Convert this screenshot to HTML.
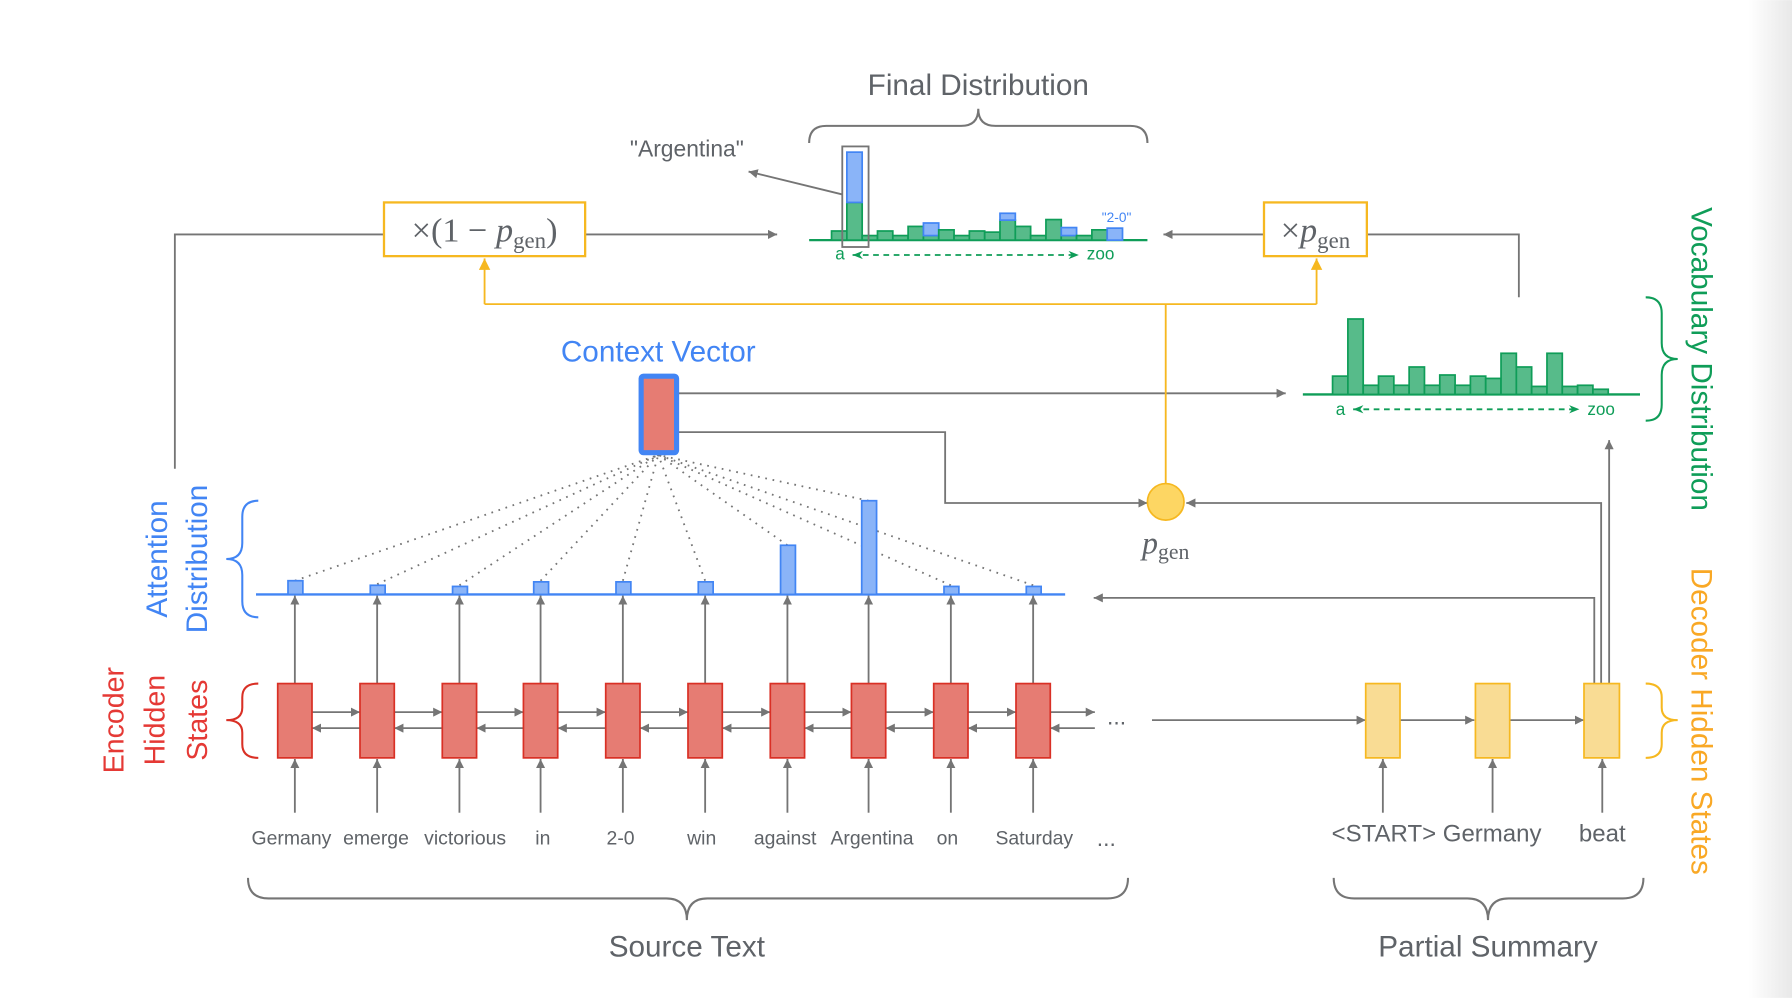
<!DOCTYPE html>
<html><head><meta charset="utf-8"><style>
html,body{margin:0;padding:0;background:#fff;}
svg{display:block;}
text{font-family:"Liberation Sans",sans-serif;}
.w{font-size:17px;fill:#5f6368;text-anchor:middle;}
.m{font-family:"Liberation Serif",serif;fill:#5f6368;}
.g{fill:#57bb8a;stroke:#0f9d58;stroke-width:1.5;}
.b{fill:#8ab4f8;stroke:#4285f4;stroke-width:1.5;}
.ln{stroke:#757575;stroke-width:1.6;fill:none;}
.dt{stroke:#757575;stroke-width:1.6;stroke-dasharray:1.5 5;fill:none;}
.enc{fill:#e67c73;stroke:#d93025;stroke-width:1.5;}
.dec{fill:#f9dc94;stroke:#f6b820;stroke-width:1.5;}
</style></head><body>
<svg width="1792" height="998" viewBox="0 0 1568 873" xmlns="http://www.w3.org/2000/svg">
<defs>
<marker id="a" viewBox="0 0 10 10" refX="10" refY="5" markerWidth="8" markerHeight="8" orient="auto-start-reverse" markerUnits="userSpaceOnUse"><path d="M0,0 L10,5 L0,10z" fill="#757575"/></marker>
<marker id="ay" viewBox="0 0 10 10" refX="10" refY="5" markerWidth="10" markerHeight="10" orient="auto" markerUnits="userSpaceOnUse"><path d="M0,0 L10,5 L0,10z" fill="#f6b820"/></marker>
<marker id="ag" viewBox="0 0 10 10" refX="10" refY="5" markerWidth="9" markerHeight="9" orient="auto-start-reverse" markerUnits="userSpaceOnUse"><path d="M0,1 L10,5 L0,9 L3,5z" fill="#0f9d58"/></marker>
<linearGradient id="edge" x1="0" x2="1"><stop offset="0" stop-color="#fff"/><stop offset="1" stop-color="#e8e8e8"/></linearGradient>
</defs>
<rect x="1530" y="0" width="38" height="873" fill="url(#edge)"/>

<!-- labels -->
<text x="856" y="83" font-size="26" fill="#5f6368" text-anchor="middle">Final Distribution</text>
<text x="601" y="137" font-size="20" fill="#5f6368" text-anchor="middle">"Argentina"</text>
<text x="576" y="316" font-size="26" fill="#4285f4" text-anchor="middle">Context Vector</text>
<text x="601" y="837" font-size="26" fill="#5f6368" text-anchor="middle">Source Text</text>
<text x="1302" y="837" font-size="26" fill="#5f6368" text-anchor="middle">Partial Summary</text>

<!-- braces -->
<g fill="none" stroke-width="1.8">
<path stroke="#757575" d="M217,768 Q217,786 235,786 L583,786 Q601,786 601,805 Q601,786 619,786 L969,786 Q987,786 987,768"/>
<path stroke="#757575" d="M1167,768 Q1167,786 1185,786 L1284,786 Q1302,786 1302,805 Q1302,786 1320,786 L1420,786 Q1438,786 1438,768"/>
<path stroke="#757575" d="M708,125 Q708,110 723,110 L841,110 Q856,110 856,95 Q856,110 871,110 L989,110 Q1004,110 1004,125"/>
<path stroke="#4285f4" d="M226,438 Q212,438 212,452 L212,475 Q212,489 198,489 Q212,489 212,503 L212,526 Q212,540 226,540"/>
<path stroke="#d93025" d="M226,598 Q212,598 212,610 L212,619 Q212,630 198,630 Q212,630 212,641 L212,651 Q212,663 226,663"/>
<path stroke="#0f9d58" d="M1440,260 Q1454,260 1454,274 L1454,300 Q1454,314 1468,314 Q1454,314 1454,328 L1454,354 Q1454,368 1440,368"/>
<path stroke="#f6b820" d="M1440,598 Q1454,598 1454,610 L1454,619 Q1454,630 1468,630 Q1454,630 1454,641 L1454,651 Q1454,663 1440,663"/>
</g>

<!-- rotated labels -->
<text transform="translate(108,630) rotate(-90)" font-size="25" fill="#e53935" text-anchor="middle">Encoder</text>
<text transform="translate(144,630) rotate(-90)" font-size="25" fill="#e53935" text-anchor="middle">Hidden</text>
<text transform="translate(181,630) rotate(-90)" font-size="25" fill="#e53935" text-anchor="middle">States</text>
<text transform="translate(146,489) rotate(-90)" font-size="26" fill="#4285f4" text-anchor="middle">Attention</text>
<text transform="translate(181,489) rotate(-90)" font-size="26" fill="#4285f4" text-anchor="middle">Distribution</text>
<text transform="translate(1480,314) rotate(90)" font-size="26" fill="#0f9d58" text-anchor="middle">Vocabulary Distribution</text>
<text transform="translate(1480,631) rotate(90)" font-size="26" fill="#f9a825" text-anchor="middle">Decoder Hidden States</text>

<!-- gray connectors -->
<path class="ln" d="M153,410 L153,205 L336,205"/>
<path class="ln" d="M512,205 L680,205" marker-end="url(#a)"/>
<path class="ln" d="M1106,205 L1018,205" marker-end="url(#a)"/>
<path class="ln" d="M1196,205 L1329,205 L1329,260"/>
<path class="ln" d="M737,170 L655,150" marker-end="url(#a)"/>
<path class="ln" d="M594,344 L1125,344" marker-end="url(#a)"/>
<path class="ln" d="M594,378 L827,378 L827,440 L1004,440" marker-end="url(#a)"/>
<path class="ln" d="M1395,598 L1395,523 L957,523" marker-end="url(#a)"/>
<path class="ln" d="M1401,598 L1401,440 L1038,440" marker-end="url(#a)"/>
<path class="ln" d="M1408,598 L1408,385" marker-end="url(#a)"/>

<!-- orange -->
<g stroke="#f6b820" stroke-width="1.6" fill="none">
<path d="M1020,423 L1020,266"/>
<path d="M424,266 L1152,266"/>
<path d="M424,266 L424,226" marker-end="url(#ay)"/>
<path d="M1152,266 L1152,226" marker-end="url(#ay)"/>
</g>
<rect x="336" y="177" width="176" height="47" fill="#fff" stroke="#f6b820" stroke-width="2"/>
<text x="424" y="211" class="m" font-size="30" text-anchor="middle">×(1 − <tspan font-style="italic">p</tspan><tspan font-size="20" dy="6">gen</tspan><tspan dy="-6">)</tspan></text>
<rect x="1106" y="177" width="90" height="47" fill="#fff" stroke="#f6b820" stroke-width="2"/>
<text x="1151" y="211" class="m" font-size="30" text-anchor="middle">×<tspan font-style="italic">p</tspan><tspan font-size="20" dy="6">gen</tspan></text>
<circle cx="1020" cy="439" r="16" fill="#fdd663" stroke="#f6b820" stroke-width="1.5"/>
<text x="1020" y="484" class="m" font-size="28" text-anchor="middle"><tspan font-style="italic">p</tspan><tspan font-size="19" dy="5">gen</tspan></text>

<!-- final distribution -->
<line x1="708" y1="210" x2="1004" y2="210" stroke="#0f9d58" stroke-width="2"/>
<g>
<rect class="g" x="727.6" y="202" width="13.4" height="8"/>
<rect class="g" x="741" y="177" width="13.4" height="33"/>
<rect class="b" x="741" y="133" width="13.4" height="44"/>
<rect class="g" x="754.4" y="206" width="13.4" height="4"/>
<rect class="g" x="767.8" y="202" width="13.4" height="8"/>
<rect class="g" x="781.2" y="206" width="13.4" height="4"/>
<rect class="g" x="794.6" y="198" width="13.4" height="12"/>
<rect class="g" x="808" y="206" width="13.4" height="4"/>
<rect class="b" x="808" y="195" width="13.4" height="11"/>
<rect class="g" x="821.4" y="201" width="13.4" height="9"/>
<rect class="g" x="834.8" y="206" width="13.4" height="4"/>
<rect class="g" x="848.2" y="202" width="13.4" height="8"/>
<rect class="g" x="861.6" y="203" width="13.4" height="7"/>
<rect class="g" x="875" y="192.5" width="13.4" height="17.5"/>
<rect class="b" x="875" y="186.5" width="13.4" height="6"/>
<rect class="g" x="888.4" y="198" width="13.4" height="12"/>
<rect class="g" x="901.8" y="206" width="13.4" height="4"/>
<rect class="g" x="915.2" y="192" width="13.4" height="18"/>
<rect class="g" x="928.6" y="206" width="13.4" height="4"/>
<rect class="b" x="928.6" y="199" width="13.4" height="7"/>
<rect class="g" x="942" y="206" width="13.4" height="4"/>
<rect class="g" x="955.4" y="201" width="13.4" height="9"/>
<rect class="b" x="968.8" y="199.5" width="13.4" height="10.5"/>
</g>
<rect x="737" y="128" width="23" height="88" fill="none" stroke="#757575" stroke-width="1.6"/>
<text x="977" y="194" font-size="12" fill="#4285f4" text-anchor="middle">"2-0"</text>
<text x="735" y="227" font-size="15" fill="#0f9d58" text-anchor="middle">a</text>
<path d="M746,223 L944,223" stroke="#0f9d58" stroke-width="1.6" stroke-dasharray="5 4" marker-start="url(#ag)" marker-end="url(#ag)"/>
<text x="963" y="227" font-size="15" fill="#0f9d58" text-anchor="middle">zoo</text>

<!-- vocab distribution -->
<line x1="1140" y1="345" x2="1435" y2="345" stroke="#0f9d58" stroke-width="2"/>
<g>
<rect class="g" x="1166" y="329" width="13.4" height="16"/>
<rect class="g" x="1179.4" y="279" width="13.4" height="66"/>
<rect class="g" x="1192.8" y="337" width="13.4" height="8"/>
<rect class="g" x="1206.2" y="329" width="13.4" height="16"/>
<rect class="g" x="1219.6" y="337" width="13.4" height="8"/>
<rect class="g" x="1233" y="321" width="13.4" height="24"/>
<rect class="g" x="1246.4" y="337" width="13.4" height="8"/>
<rect class="g" x="1259.8" y="328" width="13.4" height="17"/>
<rect class="g" x="1273.2" y="337" width="13.4" height="8"/>
<rect class="g" x="1286.6" y="329" width="13.4" height="16"/>
<rect class="g" x="1300" y="331" width="13.4" height="14"/>
<rect class="g" x="1313.4" y="309" width="13.4" height="36"/>
<rect class="g" x="1326.8" y="321" width="13.4" height="24"/>
<rect class="g" x="1340.2" y="338" width="13.4" height="7"/>
<rect class="g" x="1353.6" y="309" width="13.4" height="36"/>
<rect class="g" x="1367" y="338" width="13.4" height="7"/>
<rect class="g" x="1380.4" y="337" width="13.4" height="8"/>
<rect class="g" x="1393.8" y="340.5" width="13.4" height="4.5"/>
</g>
<text x="1173" y="363" font-size="15" fill="#0f9d58" text-anchor="middle">a</text>
<path d="M1184,358 L1382,358" stroke="#0f9d58" stroke-width="1.6" stroke-dasharray="5 4" marker-start="url(#ag)" marker-end="url(#ag)"/>
<text x="1401" y="363" font-size="15" fill="#0f9d58" text-anchor="middle">zoo</text>

<!-- dotted attention lines -->
<g class="dt">
<path d="M258,508 L576,398"/><path d="M330,511 L576,398"/><path d="M402,512 L576,398"/>
<path d="M473,508 L576,398"/><path d="M545,508 L576,398"/><path d="M617,508 L576,398"/>
<path d="M689,477 L576,398"/><path d="M760,438 L576,398"/><path d="M832,512 L576,398"/>
<path d="M904,512 L576,398"/>
</g>
<rect x="561" y="329" width="31" height="67" rx="2" fill="#e67c73" stroke="#4285f4" stroke-width="4.5"/>

<!-- attention distribution -->
<line x1="224" y1="520" x2="932" y2="520" stroke="#4285f4" stroke-width="2"/>
<g>
<rect class="b" x="252" y="508" width="13" height="12"/>
<rect class="b" x="324" y="512" width="13" height="8"/>
<rect class="b" x="396" y="513" width="13" height="7"/>
<rect class="b" x="467" y="509" width="13" height="11"/>
<rect class="b" x="539" y="509" width="13" height="11"/>
<rect class="b" x="611" y="509" width="13" height="11"/>
<rect class="b" x="683" y="477" width="13" height="43"/>
<rect class="b" x="754" y="438" width="13" height="82"/>
<rect class="b" x="826" y="513" width="13" height="7"/>
<rect class="b" x="898" y="513" width="13" height="7"/>
</g>

<!-- encoder -->
<g>
<path class="ln" d="M258,598 L258,521" marker-end="url(#a)"/><path class="ln" d="M258,711 L258,664" marker-end="url(#a)"/>
<path class="ln" d="M330,598 L330,521" marker-end="url(#a)"/><path class="ln" d="M330,711 L330,664" marker-end="url(#a)"/>
<path class="ln" d="M402,598 L402,521" marker-end="url(#a)"/><path class="ln" d="M402,711 L402,664" marker-end="url(#a)"/>
<path class="ln" d="M473,598 L473,521" marker-end="url(#a)"/><path class="ln" d="M473,711 L473,664" marker-end="url(#a)"/>
<path class="ln" d="M545,598 L545,521" marker-end="url(#a)"/><path class="ln" d="M545,711 L545,664" marker-end="url(#a)"/>
<path class="ln" d="M617,598 L617,521" marker-end="url(#a)"/><path class="ln" d="M617,711 L617,664" marker-end="url(#a)"/>
<path class="ln" d="M689,598 L689,521" marker-end="url(#a)"/><path class="ln" d="M689,711 L689,664" marker-end="url(#a)"/>
<path class="ln" d="M760,598 L760,521" marker-end="url(#a)"/><path class="ln" d="M760,711 L760,664" marker-end="url(#a)"/>
<path class="ln" d="M832,598 L832,521" marker-end="url(#a)"/><path class="ln" d="M832,711 L832,664" marker-end="url(#a)"/>
<path class="ln" d="M904,598 L904,521" marker-end="url(#a)"/><path class="ln" d="M904,711 L904,664" marker-end="url(#a)"/>
</g>
<g>
<path class="ln" d="M273,623 L315,623" marker-end="url(#a)"/><path class="ln" d="M315,637 L273,637" marker-end="url(#a)"/>
<path class="ln" d="M345,623 L387,623" marker-end="url(#a)"/><path class="ln" d="M387,637 L345,637" marker-end="url(#a)"/>
<path class="ln" d="M417,623 L458,623" marker-end="url(#a)"/><path class="ln" d="M458,637 L417,637" marker-end="url(#a)"/>
<path class="ln" d="M488,623 L530,623" marker-end="url(#a)"/><path class="ln" d="M530,637 L488,637" marker-end="url(#a)"/>
<path class="ln" d="M560,623 L602,623" marker-end="url(#a)"/><path class="ln" d="M602,637 L560,637" marker-end="url(#a)"/>
<path class="ln" d="M632,623 L674,623" marker-end="url(#a)"/><path class="ln" d="M674,637 L632,637" marker-end="url(#a)"/>
<path class="ln" d="M704,623 L745,623" marker-end="url(#a)"/><path class="ln" d="M745,637 L704,637" marker-end="url(#a)"/>
<path class="ln" d="M775,623 L817,623" marker-end="url(#a)"/><path class="ln" d="M817,637 L775,637" marker-end="url(#a)"/>
<path class="ln" d="M847,623 L889,623" marker-end="url(#a)"/><path class="ln" d="M889,637 L847,637" marker-end="url(#a)"/>
<path class="ln" d="M919,623 L958,623" marker-end="url(#a)"/><path class="ln" d="M958,637 L919,637" marker-end="url(#a)"/>
</g>
<g>
<rect class="enc" x="243" y="598" width="30" height="65"/>
<rect class="enc" x="315" y="598" width="30" height="65"/>
<rect class="enc" x="387" y="598" width="30" height="65"/>
<rect class="enc" x="458" y="598" width="30" height="65"/>
<rect class="enc" x="530" y="598" width="30" height="65"/>
<rect class="enc" x="602" y="598" width="30" height="65"/>
<rect class="enc" x="674" y="598" width="30" height="65"/>
<rect class="enc" x="745" y="598" width="30" height="65"/>
<rect class="enc" x="817" y="598" width="30" height="65"/>
<rect class="enc" x="889" y="598" width="30" height="65"/>
</g>
<text x="977" y="634" font-size="20" fill="#5f6368" text-anchor="middle">...</text>
<text class="w" x="255" y="739">Germany</text>
<text class="w" x="329" y="739">emerge</text>
<text class="w" x="407" y="739">victorious</text>
<text class="w" x="475" y="739">in</text>
<text class="w" x="543" y="739">2-0</text>
<text class="w" x="614" y="739">win</text>
<text class="w" x="687" y="739">against</text>
<text class="w" x="763" y="739">Argentina</text>
<text class="w" x="829" y="739">on</text>
<text class="w" x="905" y="739">Saturday</text>
<text x="968" y="740" font-size="20" fill="#5f6368" text-anchor="middle">...</text>

<!-- decoder -->
<path class="ln" d="M1008,630 L1195,630" marker-end="url(#a)"/>
<path class="ln" d="M1225,630 L1290,630" marker-end="url(#a)"/>
<path class="ln" d="M1321,630 L1386,630" marker-end="url(#a)"/>
<path class="ln" d="M1210,711 L1210,664" marker-end="url(#a)"/>
<path class="ln" d="M1306,711 L1306,664" marker-end="url(#a)"/>
<path class="ln" d="M1402,711 L1402,664" marker-end="url(#a)"/>
<rect class="dec" x="1195" y="598" width="30" height="65"/>
<rect class="dec" x="1291" y="598" width="30" height="65"/>
<rect class="dec" x="1386" y="598" width="31" height="65"/>
<text x="1257" y="736" font-size="21" fill="#5f6368" text-anchor="middle">&lt;START&gt; Germany</text>
<text x="1402" y="736" font-size="21" fill="#5f6368" text-anchor="middle">beat</text>
</svg>
</body></html>
